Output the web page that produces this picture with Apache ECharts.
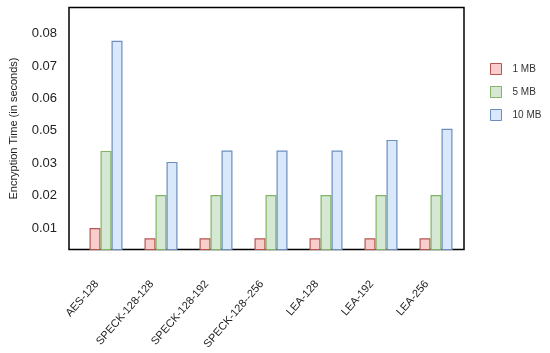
<!DOCTYPE html>
<html>
<head>
<meta charset="utf-8">
<script src="https://cdn.jsdelivr.net/npm/echarts@6/dist/echarts.min.js"></script>
<style>html,body{margin:0;padding:0;background:#fff}#c{width:550px;height:353px}</style>
</head>
<body>
<div id="c"></div>
<script>
const categories = ['AES-128', 'SPECK-128-128', 'SPECK-128-192', 'SPECK-128--256', 'LEA-128', 'LEA-192', 'LEA-256'];
const seriesNames = ['1 MB', '5 MB', '10 MB'];
const mb1 = [0.0100, 0.0068, 0.0068, 0.0068, 0.0068, 0.0068, 0.0068];
const mb5 = [0.0338, 0.0202, 0.0202, 0.0202, 0.0202, 0.0202, 0.0202];
const mb10 = [0.0678, 0.0304, 0.0339, 0.0339, 0.0339, 0.0372, 0.0406];
const yTickValues = [0.01, 0.02, 0.03, 0.04, 0.05, 0.06, 0.07];
const yTickLabels = ['0.01', '0.02', '0.03', '0.05', '0.06', '0.07', '0.08'];

const FONT = "'Liberation Sans', Arial, Helvetica, sans-serif";
const yMin = 0.003364, yMax = 0.07806;
const fills = ['#f8cecc', '#d5e8d4', '#dae8fc'];
const borders = ['#b85450', '#82b366', '#6c8ebf'];
const dataSets = [mb1, mb5, mb10];

const chart = echarts.init(document.getElementById('c'), null, {renderer: 'canvas'});
chart.setOption({
  animation: false,
  textStyle: {fontFamily: FONT},
  grid: [
    {left: 68, right: 86, top: 7.5, bottom: 103.5, show: true, borderColor: '#000', borderWidth: 1.5, backgroundColor: 'transparent'},
    {left: 78.5, right: 86.5, top: 7.5, bottom: 103.5}
  ],
  legend: {
    orient: 'vertical', left: 490, top: 63, padding: 0, itemWidth: 11, itemHeight: 11, itemGap: 11,
    textStyle: {fontFamily: FONT, fontSize: 10, color: '#333', padding: [0, 0, 0, 6]},
    data: seriesNames.map((n, i) => ({name: n, icon: 'rect', itemStyle: {color: fills[i], borderColor: borders[i], borderWidth: 1}}))
  },
  xAxis: [
    {gridIndex: 0, type: 'category', data: categories, show: false},
    {gridIndex: 1, type: 'category', data: categories,
     axisLine: {show: false}, axisTick: {show: false},
     axisLabel: {rotate: 49, margin: 22, fontSize: 11, color: '#222', fontFamily: FONT, interval: 0, padding: [0, 14, 0, 0]}}
  ],
  yAxis: [
    {gridIndex: 0, type: 'value', min: yMin, max: yMax,
     name: 'Encryption Time (in seconds)', nameLocation: 'middle', nameGap: 50, nameRotate: 90,
     nameTextStyle: {fontSize: 11, color: '#222', fontFamily: FONT},
     axisLine: {show: false}, axisTick: {show: false}, splitLine: {show: false},
     axisLabel: {customValues: yTickValues, fontSize: 13, color: '#222', margin: 12, fontFamily: FONT,
       formatter: (v) => yTickLabels[Math.round(v * 100) - 1]}},
    {gridIndex: 1, type: 'value', min: yMin, max: yMax, show: false, splitLine: {show: false}}
  ],
  series: dataSets.map((d, i) => ({
    name: seriesNames[i], type: 'bar', xAxisIndex: 1, yAxisIndex: 1,
    data: d, barWidth: 11, barGap: '0%',
    itemStyle: {color: fills[i], borderColor: borders[i], borderWidth: 1.2}
  }))
});
</script>
</body>
</html>
